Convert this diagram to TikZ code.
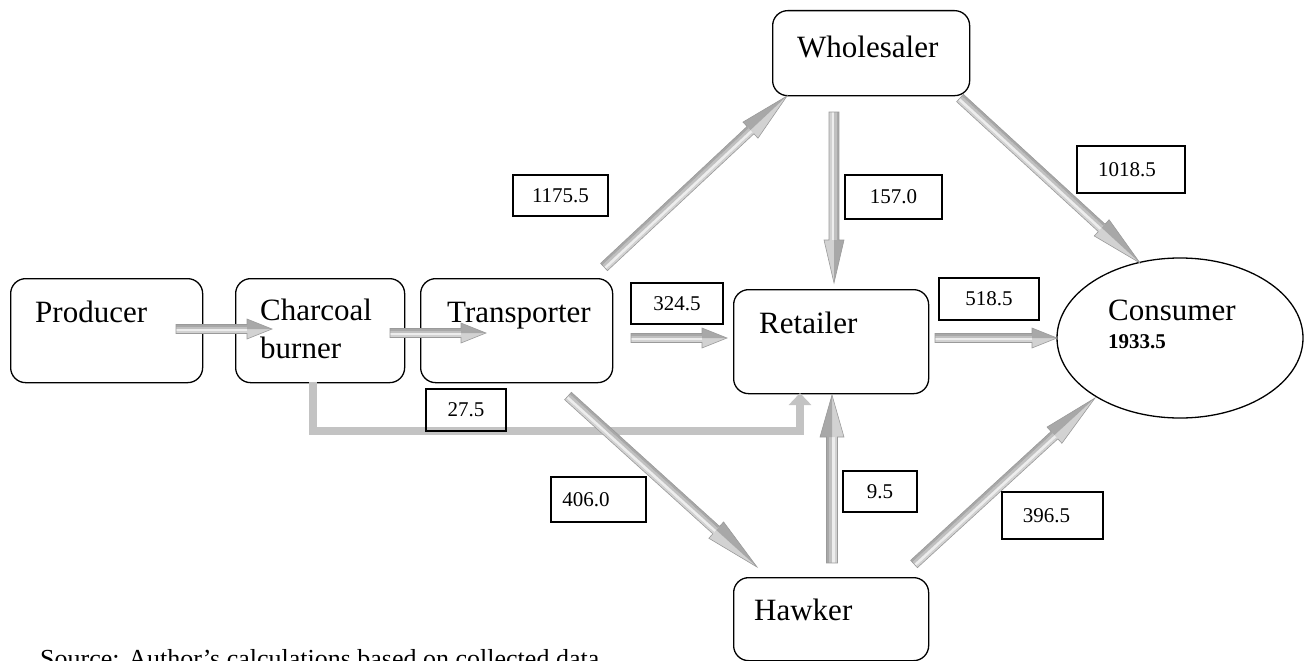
\documentclass[tikz,border=0pt]{standalone}
\usepackage{fontspec}
\setmainfont{Liberation Serif}
\usetikzlibrary{shapes.geometric,arrows.meta,calc}

\definecolor{arrA}{HTML}{D2D2D2}
\definecolor{arrB}{HTML}{EDEDED}
\definecolor{arrC}{HTML}{C0C0C0}
\definecolor{arrD}{HTML}{A8A8A8}
\definecolor{arrE}{HTML}{9A9A9A}
\definecolor{lshape}{HTML}{C3C3C3}

% #1 start, #2 tip, #3 shaft half width, #4 head half width, #5 head length
\newcommand\blockarrow[5]{%
  \path let \p1=(#1), \p2=(#2) in \pgfextra{%
    \pgfmathsetmacro\tmpang{atan2(\y2-\y1,\x2-\x1)}%
    \pgfmathsetmacro\tmplen{veclen(\x2-\x1,\y2-\y1)}%
    \pgfmathsetmacro\tmpx{\x1}%
    \pgfmathsetmacro\tmpy{\y1}%
    \xdef\barAng{\tmpang}\xdef\barLen{\tmplen}%
    \xdef\barX{\tmpx}\xdef\barY{\tmpy}};
  \begin{scope}[shift={(\barX pt,\barY pt)}, rotate=\barAng, x=1pt, y=1pt]
    \pgfmathsetmacro\hb{\barLen-#5}
    \fill[arrA] (0,-#3) rectangle (\hb,-#3/2);
    \fill[arrB] (0,-#3/2) rectangle (\hb,0);
    \fill[arrC] (0,0) rectangle (\hb,#3/2);
    \fill[arrD] (0,#3/2) rectangle (\hb,#3);
    \fill[arrA] (\hb,-#4) -- (\barLen,0) -- (\hb,0) -- cycle;
    \fill[arrD] (\hb,0) -- (\barLen,0) -- (\hb,#4) -- cycle;
    \draw[arrE, line width=0.6pt, line join=miter]
      (0,-#3) -- (\hb,-#3) -- (\hb,-#4) -- (\barLen,0) -- (\hb,#4) -- (\hb,#3) -- (0,#3) -- cycle;
  \end{scope}}

\tikzset{
  box/.style={draw=black, line width=1.3pt, rounded corners=15pt, anchor=north west, inner sep=0pt},
  numbox/.style={draw=black, line width=1.3pt, inner sep=0pt, font=\fontsize{21}{24}\selectfont},
  lbl/.style={anchor=base west, inner sep=0pt, font=\fontsize{31}{36}\selectfont},
}

\begin{document}
\begin{tikzpicture}[x=1pt, y=-1pt]
\clip (0,0) rectangle (1304,661);
\useasboundingbox (0,0) rectangle (1304,661);

% main boxes
\node[box, minimum width=192pt, minimum height=104pt] (prod) at (10,278) {};
\node[box, minimum width=169pt, minimum height=104pt] (charc) at (235,278) {};
\node[box, minimum width=192pt, minimum height=104pt] (trans) at (420,278) {};
\node[box, minimum width=195pt, minimum height=104pt] (retail) at (733,289) {};
\node[box, minimum width=197pt, minimum height=85pt] (whole) at (772,10) {};
\node[box, minimum width=195pt, minimum height=83pt] (hawk) at (733,577) {};
\node[draw=black, line width=1.3pt, ellipse, minimum width=246pt, minimum height=160pt, inner sep=0pt] (cons) at (1180,338) {};

% labels
\node[lbl] (prodT) at (35,322) {Producer};
\node[lbl] (charcT) at (260,320) {Charcoal};
\node[lbl] (charcT2) at (260,358) {burner};
\node[lbl] (transT) at (447,322) {Transporter};
\node[lbl] (retailT) at (759,333) {Retailer};
\node[lbl] (wholeT) at (797,58) {Wholesaler};
\node[lbl] (hawkT) at (754,620) {Hawker};
\node[lbl] (consT) at (1108,320) {Consumer};
\node[anchor=base west, inner sep=0pt, font=\fontsize{21}{24}\selectfont\bfseries] (consN) at (1108,348) {1933.5};

% connector coordinates
\coordinate (a1s) at (176,329); \coordinate (a1e) at (272,329);
\coordinate (a2s) at (390,333); \coordinate (a2e) at (486,333);
\coordinate (a3s) at (631,338); \coordinate (a3e) at (727,338);
\coordinate (a4s) at (935,338); \coordinate (a4e) at (1057,338);
\coordinate (a5s) at (604,267); \coordinate (a5e) at (787,96);
\coordinate (a6s) at (834,112); \coordinate (a6e) at (834,283);
\coordinate (a7s) at (960,98);  \coordinate (a7e) at (1140,263);
\coordinate (a8s) at (568,396); \coordinate (a8e) at (757,567);
\coordinate (a9s) at (832,563); \coordinate (a9e) at (832,395);
\coordinate (a10s) at (914,564); \coordinate (a10e) at (1095,398);
\coordinate (Ls) at (313,382); \coordinate (Le) at (800,393);

% L-shaped connector charcoal burner -> retailer
\draw[lshape, line width=8pt, line join=miter, -{Triangle[length=12pt,width=22pt]}]
  (Ls) |- ($(Le)+(0,38)$) -- (Le);

% block arrows
\blockarrow{a1s}{a1e}{4.5}{10}{25}
\blockarrow{a2s}{a2e}{4.5}{10}{25}
\blockarrow{a3s}{a3e}{4.5}{10}{25}
\blockarrow{a4s}{a4e}{4.5}{10}{25}
\blockarrow{a5s}{a5e}{5}{11}{50}
\blockarrow{a6s}{a6e}{5}{10}{43}
\blockarrow{a7s}{a7e}{5}{11}{52}
\blockarrow{a8s}{a8e}{5}{11}{55}
\blockarrow{a9s}{a9e}{5.5}{12}{42}
\blockarrow{a10s}{a10e}{5}{11}{55}

% value boxes
\node[numbox, minimum width=95pt, minimum height=41pt] (n1175) at (560.5,195.5) {1175.5};
\node[numbox, minimum width=97pt, minimum height=44pt] (n157) at (893.5,197) {157.0};
\node[numbox, minimum width=108pt, minimum height=47pt] (n1018) at (1131,169.5) {\hspace*{-8pt}1018.5};
\node[numbox, minimum width=92pt, minimum height=41pt] (n324) at (677,303.5) {324.5};
\node[numbox, minimum width=100pt, minimum height=42pt] (n518) at (989,299) {518.5};
\node[numbox, minimum width=80pt, minimum height=42pt] (n27) at (466,410) {27.5};
\node[numbox, minimum width=95pt, minimum height=45pt] (n406) at (598.5,499.5) {\hspace*{-25pt}406.0};
\node[numbox, minimum width=74pt, minimum height=41pt] (n9) at (880,491.5) {9.5};
\node[numbox, minimum width=101pt, minimum height=47pt] (n396) at (1052.5,515.5) {\hspace*{-12pt}396.5};

% source line (cut by the lower edge)
\node[anchor=base west, inner sep=0pt, font=\fontsize{26}{30}\selectfont] (src) at (40,667) {Source: Author’s calculations based on collected data};
\end{tikzpicture}
\end{document}
